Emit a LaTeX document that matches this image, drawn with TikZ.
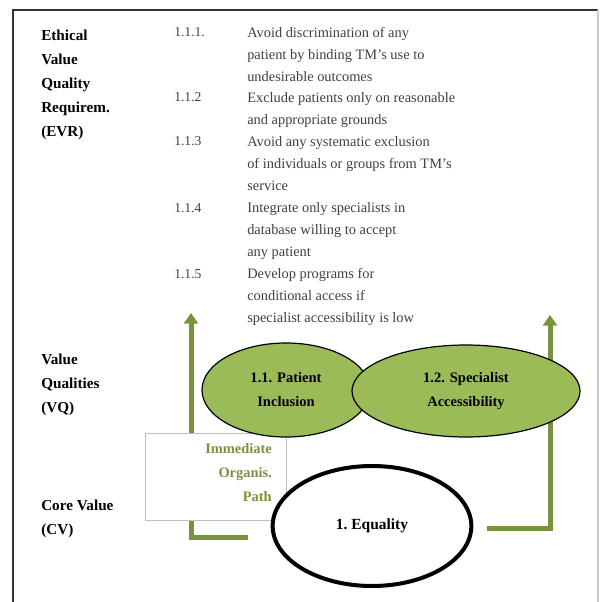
\documentclass[tikz,border=0pt]{standalone}
\usepackage{fontspec}
\setmainfont{Liberation Serif}
\usetikzlibrary{shapes.geometric,arrows.meta,positioning}
\definecolor{olive}{RGB}{155,187,89}
\definecolor{darkolive}{RGB}{119,147,60}
\definecolor{txt}{RGB}{64,64,64}
\begin{document}
\begin{tikzpicture}[x=0.75pt, y=-0.75pt,
	lbl/.style={anchor=north west,font=\fontsize{11.4}{18}\selectfont\bfseries,align=left,inner sep=0pt},
	num/.style={anchor=base west,text=txt,font=\fontsize{10.2}{16.5}\selectfont,inner sep=0pt},
	itm/.style={anchor=north west,text=txt,font=\fontsize{10.8}{16.5}\selectfont,align=left,inner sep=0pt},
	vq/.style={draw,ellipse,fill=olive,line width=0.9pt,font=\fontsize{10.9}{18}\selectfont\bfseries,align=center},
	path/.style={draw=darkolive,line width=3.75pt},
	tip/.style={-{Triangle[width=10.5pt,length=8pt]}}]
\useasboundingbox (0,0) rectangle (600,602);
\draw[black!80,line width=1.5pt] (12.5,602) -- (12.5,10) -- (598,10);
\draw[black!20,line width=1pt] (598,10) -- (598,602);
\node[lbl] (evr) at (41,23.2) {\strut Ethical\\Value\\Quality\\Requirem.\\(EVR)};
\node[lbl] (vql) at (41,347.2) {\strut Value\\Qualities\\(VQ)};
\node[lbl] (cvl) at (41,493.2) {\strut Core Value\\(CV)};
\node[num] (n1) at (174,37) {1.1.1.};
\node[itm] (t1) at (247,21.6) {\strut Avoid discrimination of any\\patient by binding TM's use to\\undesirable outcomes};
\node[num] (n2) at (174,102) {1.1.2};
\node[itm] (t2) at (247,86.6) {\strut Exclude patients only on reasonable\\and appropriate grounds};
\node[num] (n3) at (174,146) {1.1.3};
\node[itm] (t3) at (247,130.6) {\strut Avoid any systematic exclusion\\of individuals or groups from TM's\\service};
\node[num] (n4) at (174,212) {1.1.4};
\node[itm] (t4) at (247,196.6) {\strut Integrate only specialists in\\database willing to accept\\any patient};
\node[num] (n5) at (174,278) {1.1.5};
\node[itm] (t5) at (247,262.6) {\strut Develop programs for\\conditional access if\\specialist accessibility is low};
\coordinate (ls) at (248,537);
\coordinate (lc) at (191,537);
\coordinate (lt) at (191,313);
\coordinate (rs) at (487,528);
\coordinate (rc) at (550,528);
\coordinate (rt) at (550,315);
\draw[path,tip] (ls) -- (lc) -- (lt);
\draw[path,tip] (rs) -- (rc) -- (rt);
\node[draw=black!25,fill=white,minimum width=105.75pt,minimum height=65.25pt,inner sep=0pt] (box) at (215.5,476.5) {};
\node[anchor=north east,text=darkolive,font=\fontsize{10.8}{18}\selectfont\bfseries,align=right,inner sep=0pt] (iop) at (272,436) {\strut Immediate\\Organis.\\Path};
\node[vq,minimum width=126pt,minimum height=70.5pt] (pi) at (286,390) {1.1. Patient\\Inclusion};
\node[vq,minimum width=171pt,minimum height=69pt] (sa) at (466,391) {1.2. Specialist\\Accessibility};
\node[draw,ellipse,line width=3pt,fill=white,minimum width=149pt,minimum height=90pt,font=\fontsize{11.6}{18}\selectfont\bfseries] (eq) at (372,526) {1.\ Equality};
\end{tikzpicture}
\end{document}
